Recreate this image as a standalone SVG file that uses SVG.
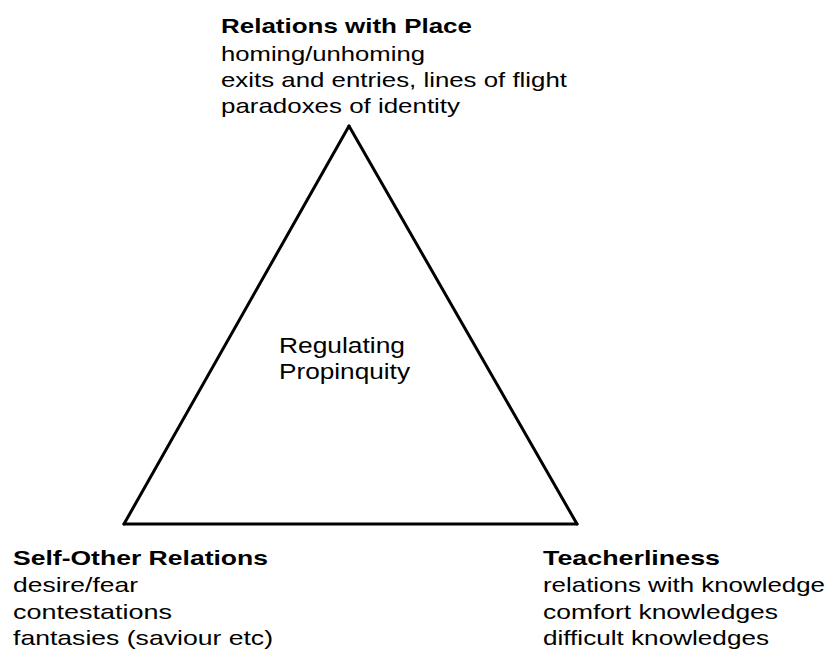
<svg xmlns="http://www.w3.org/2000/svg" width="838" height="650" viewBox="0 0 838 650">
<style>
text{font-family:"Liberation Sans",Arial,sans-serif;fill:#000;font-size:21px}
.b{font-weight:bold}
.c{font-size:22px}
.edge{fill:none;stroke:#000;stroke-width:3;stroke-linejoin:miter;stroke-linecap:round}
</style>
<rect width="838" height="650" fill="#fff"/>
<g id="connectors">
<line class="edge" x1="124" y1="524" x2="349" y2="126"/>
<line class="edge" x1="349" y1="126" x2="577" y2="524"/>
<line class="edge" x1="577" y1="524" x2="124" y2="524"/>
</g>
<g id="place">
<text class="b" x="221" y="33" textLength="251" lengthAdjust="spacingAndGlyphs">Relations with Place</text>
<text x="221" y="61" textLength="204" lengthAdjust="spacingAndGlyphs">homing/unhoming</text>
<text x="221" y="87" textLength="346" lengthAdjust="spacingAndGlyphs">exits and entries, lines of flight</text>
<text x="221" y="113" textLength="239" lengthAdjust="spacingAndGlyphs">paradoxes of identity</text>
</g>
<g id="center">
<text class="c" x="279" y="353" textLength="126" lengthAdjust="spacingAndGlyphs">Regulating</text>
<text class="c" x="279" y="379" textLength="131" lengthAdjust="spacingAndGlyphs">Propinquity</text>
</g>
<g id="self-other">
<text class="b" x="13" y="565" textLength="255" lengthAdjust="spacingAndGlyphs">Self-Other Relations</text>
<text x="13" y="592" textLength="125" lengthAdjust="spacingAndGlyphs">desire/fear</text>
<text x="13" y="619" textLength="159" lengthAdjust="spacingAndGlyphs">contestations</text>
<text x="13" y="645" textLength="260" lengthAdjust="spacingAndGlyphs">fantasies (saviour etc)</text>
</g>
<g id="teacherliness">
<text class="b" x="543" y="565" textLength="177" lengthAdjust="spacingAndGlyphs">Teacherliness</text>
<text x="543" y="592" textLength="282" lengthAdjust="spacingAndGlyphs">relations with knowledge</text>
<text x="543" y="619" textLength="235" lengthAdjust="spacingAndGlyphs">comfort knowledges</text>
<text x="543" y="645" textLength="226" lengthAdjust="spacingAndGlyphs">difficult knowledges</text>
</g>
</svg>
